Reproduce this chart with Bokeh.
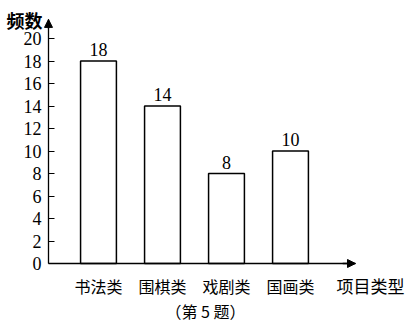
import numpy as np
from bokeh.plotting import figure
from bokeh.models import Range1d, FixedTicker, Label, ColumnDataSource, Arrow, NormalHead
from bokeh.core.properties import value
from bokeh.embed import file_html
from bokeh.resources import INLINE

categories = ["书法类", "围棋类", "戏剧类", "国画类"]
counts = [18, 14, 8, 10]
y_ticks = [0, 2, 4, 6, 8, 10, 12, 14, 16, 18, 20]
x_title = "项目类型"
y_title = "频数"
caption = "（第 5 题）"

CJK = "Noto Sans CJK SC"
SERIF = "Liberation Serif"

AX_X = -0.78125   # where the y axis stands
X_END = 4.0156    # end of the x axis (arrow tip)
Y_END = 21.7      # end of the y axis (arrow tip)

xs = np.arange(len(categories))
src = ColumnDataSource(dict(x=xs, top=counts, lab=[str(c) for c in counts]))

p = figure(width=414, height=322, output_backend="svg", toolbar_location=None,
           x_range=Range1d(-1.531, 4.9375), y_range=Range1d(-5.244, 23.38),
           min_border=0, min_border_left=0, min_border_right=0,
           min_border_top=0, min_border_bottom=0)
p.outline_line_color = None
p.xgrid.visible = False
p.ygrid.visible = False
p.background_fill_color = "white"
p.border_fill_color = "white"

p.vbar(x="x", top="top", width=0.56, bottom=0, source=src,
       fill_color="white", line_color="black", line_width=1.5)
p.text(x="x", y="top", text="lab", source=src, text_align="center", text_baseline="bottom",
       y_offset=-5, text_font=value(SERIF), text_font_size="18px", text_color="black")

# y axis
ya = p.yaxis[0]
ya.fixed_location = AX_X
ya.bounds = (0, Y_END)
ya.ticker = FixedTicker(ticks=y_ticks)
ya.major_tick_in = 6
ya.major_tick_out = 0
ya.minor_tick_line_color = None
ya.major_label_standoff = 7
ya.major_label_text_font = SERIF
ya.major_label_text_font_size = "18px"
ya.major_label_text_color = "black"
ya.axis_line_color = "black"
ya.axis_line_width = 1.3
ya.major_tick_line_color = "black"

# x axis
xa = p.xaxis[0]
xa.fixed_location = 0
xa.bounds = (AX_X, X_END)
xa.ticker = FixedTicker(ticks=list(xs))
xa.major_label_overrides = {int(i): c for i, c in zip(xs, categories)}
xa.major_tick_in = 0
xa.major_tick_out = 0
xa.minor_tick_line_color = None
xa.major_label_standoff = 10
xa.major_label_text_font = CJK
xa.major_label_text_font_size = "16px"
xa.major_label_text_color = "black"
xa.axis_line_color = "black"
xa.axis_line_width = 1.3

# arrow heads
p.add_layout(Arrow(end=NormalHead(size=8, fill_color="black", line_color="black"),
                   x_start=AX_X, y_start=Y_END - 0.8, x_end=AX_X, y_end=Y_END,
                   line_color="black", line_width=1.3))
p.add_layout(Arrow(end=NormalHead(size=8, fill_color="black", line_color="black"),
                   x_start=X_END - 0.2, y_start=0, x_end=X_END, y_end=0,
                   line_color="black", line_width=1.3))

p.add_layout(Label(x=-1.156, y=21.65, text=y_title, text_align="center", text_baseline="middle",
                   text_font=CJK, text_font_size="18px", text_font_style="bold", text_color="black"))
p.add_layout(Label(x=4.25, y=-1.956, text=x_title, text_align="center", text_baseline="middle",
                   text_font=CJK, text_font_size="17px", text_color="black"))
p.add_layout(Label(x=1.672, y=-4.18, text=caption, text_align="center", text_baseline="middle",
                   text_font=CJK, text_font_size="16px", text_color="black"))

open("out.html", "w").write(file_html(p, INLINE))
